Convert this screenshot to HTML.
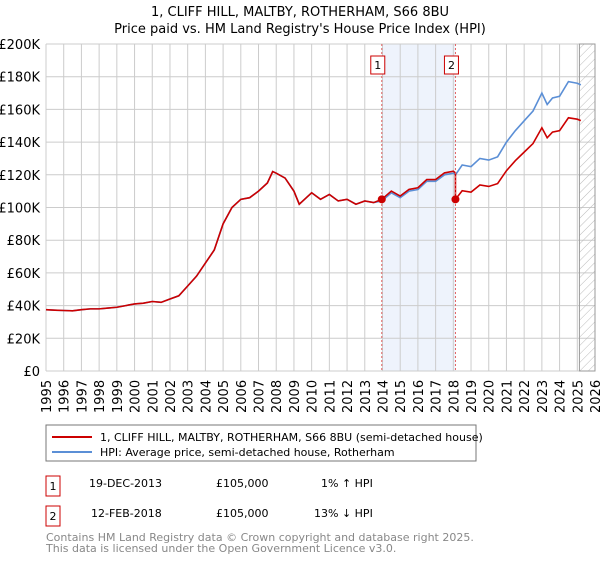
<!DOCTYPE html>
<html><head><meta charset="utf-8"><style>
body{margin:0;background:#fff;font-family:"DejaVu Sans","Liberation Sans",sans-serif;}
svg text{font-family:"DejaVu Sans","Liberation Sans",sans-serif;}
</style></head><body>
<svg id="c" width="600" height="560" xmlns="http://www.w3.org/2000/svg">
<text x="300" y="16" text-anchor="middle" font-size="13">1, CLIFF HILL, MALTBY, ROTHERHAM, S66 8BU</text>
<text x="300" y="33" text-anchor="middle" font-size="13">Price paid vs. HM Land Registry's House Price Index (HPI)</text>
<g id="grid"></g><g id="marks"></g>
<rect x="46" y="425" width="430" height="36" fill="#fff" stroke="#777"/>
<line x1="52" y1="437" x2="92" y2="437" stroke="#cc0000" stroke-width="2"/>
<text x="100" y="441" font-size="11">1, CLIFF HILL, MALTBY, ROTHERHAM, S66 8BU (semi-detached house)</text>
<line x1="52" y1="452" x2="92" y2="452" stroke="#5b8fd6" stroke-width="2"/>
<text x="100" y="456" font-size="11">HPI: Average price, semi-detached house, Rotherham</text>
<rect x="46" y="476" width="14" height="20" fill="#fff" stroke="#cc0000"/>
<text x="53" y="490" font-size="11" text-anchor="middle">1</text>
<text x="89" y="487" font-size="11">19-DEC-2013</text>
<text x="216" y="487" font-size="11">£105,000</text>
<text x="321" y="487" font-size="11">1% ↑ HPI</text>
<rect x="46" y="506" width="14" height="20" fill="#fff" stroke="#cc0000"/>
<text x="53" y="520" font-size="11" text-anchor="middle">2</text>
<text x="91" y="517" font-size="11">12-FEB-2018</text>
<text x="216" y="517" font-size="11">£105,000</text>
<text x="314" y="517" font-size="11">13% ↓ HPI</text>
<text x="46" y="541" font-size="11" fill="#888">Contains HM Land Registry data © Crown copyright and database right 2025.</text>
<text x="46" y="552" font-size="11" fill="#888">This data is licensed under the Open Government Licence v3.0.</text>
</svg>
<script>
const hpiYears=[1995,1995.5,1996,1996.5,1997,1997.5,1998,1998.5,1999,1999.5,2000,2000.5,2001,2001.5,2002,2002.5,2003,2003.5,2004,2004.5,2005,2005.5,2006,2006.5,2007,2007.5,2007.8,2008,2008.5,2009,2009.3,2009.7,2010,2010.5,2011,2011.5,2012,2012.5,2013,2013.5,2013.96,2014.5,2015,2015.5,2016,2016.5,2017,2017.5,2018,2018.12,2018.5,2019,2019.5,2020,2020.5,2021,2021.5,2022,2022.5,2023,2023.3,2023.6,2024,2024.5,2025,2025.2];
const hpiValues=[37.5,37.2,37,36.8,37.5,38,38,38.5,39,40,41,41.5,42.5,42,44,46,52,58,66,74,90,100,105,106,110,115,122,121,118,110,102,106,109,105,108,104,105,102,104,103,104,109,106,110,111,116,116,120,121,120,126,125,130,129,131,140,147,153,159,170,163,167,168,177,176,175];
const sales=[{n:"1",year:2013.96,price:105},{n:"2",year:2018.12,price:105}];
const yTicks=[0,20,40,60,80,100,120,140,160,180,200];
const xTicks=[];for(let y=1995;y<=2026;y++)xTicks.push(y);
const X0=46,X1=595,Y0=371,Y1=44;
const sx=y=>X0+(y-1995)*(X1-X0)/31, sy=v=>Y0-(v)*(Y0-Y1)/200;
const NS="http://www.w3.org/2000/svg";
function mk(t,a,p){const e=document.createElementNS(NS,t);for(const k in a)e.setAttribute(k,a[k]);p.appendChild(e);return e;}
const g=document.getElementById('grid'),m=document.getElementById('marks');
const sh=mk('rect',{x:sx(sales[0].year),y:Y1,width:sx(sales[1].year)-sx(sales[0].year),height:Y0-Y1,fill:'#eef3fc'},g);


yTicks.forEach(v=>{const l=mk('line',{x1:X0,x2:X1,y1:sy(v),y2:sy(v),stroke:'#ccc'},g);


const t=mk('text',{x:X0-6,y:sy(v)+5,'text-anchor':'end','font-size':13},g);t.textContent=v==0?'£0':'£'+v+'K';

});
xTicks.forEach(y=>{const l=mk('line',{x1:sx(y),x2:sx(y),y1:Y1,y2:Y0,stroke:'#ccc'},g);


const t=mk('text',{x:0,y:0,'font-size':13,transform:`translate(${sx(y)+5},${Y0+42}) rotate(-90)`},g);t.textContent=y;

});
// hatched future region
const defs=mk('defs',{},g);const pat=mk('pattern',{id:'h',width:6,height:6,patternUnits:'userSpaceOnUse',patternTransform:'rotate(45)'},defs);
mk('line',{x1:0,y1:0,x2:0,y2:6,stroke:'#bbb'},pat);
const hz=mk('rect',{x:sx(2025.12),y:Y1,width:X1-sx(2025.12),height:Y0-Y1,fill:'url(#h)',stroke:'#999'},g);


function path(pts,color,name){const p=mk('polyline',{points:pts.map(q=>sx(q[0])+','+sy(q[1])).join(' '),fill:'none',stroke:color,'stroke-width':1.6},m);

}
const hpiAt=yr=>{for(let i=1;i<hpiYears.length;i++)if(hpiYears[i]>=yr){const f=(yr-hpiYears[i-1])/(hpiYears[i]-hpiYears[i-1]);return hpiValues[i-1]+f*(hpiValues[i]-hpiValues[i-1]);}return hpiValues[hpiValues.length-1];};
path(hpiYears.map((y,i)=>[y,hpiValues[i]]),'#5b8fd6','hpi-line');
const red=[];
hpiYears.forEach((y,i)=>{let s=null;for(const sl of sales)if(y>=sl.year)s=sl;
const f=s?s.price/hpiAt(s.year):1.0;
if(s&&s.n==="2"&&red.length&&red[red.length-1][0]<s.year){red.push([s.year,hpiAt(s.year)*(sales[0].price/hpiAt(sales[0].year))]);red.push([s.year,s.price]);}
red.push([y,hpiValues[i]*f]);});
path(red,'#cc0000','property-price-line');
sales.forEach(s=>{const l=mk('line',{x1:sx(s.year),x2:sx(s.year),y1:Y1,y2:Y0,stroke:'#e06060','stroke-dasharray':'2,2'},m);


const c=mk('circle',{cx:sx(s.year),cy:sy(s.price),r:4,fill:'#cc0000'},m);


const b=mk('rect',{x:sx(s.year)-11,y:56,width:14,height:18,fill:'#fff',stroke:'#cc0000'},m);


const t=mk('text',{x:sx(s.year)-4,y:69,'font-size':11,'text-anchor':'middle'},m);t.textContent=s.n;

});
</script>
</body></html>
